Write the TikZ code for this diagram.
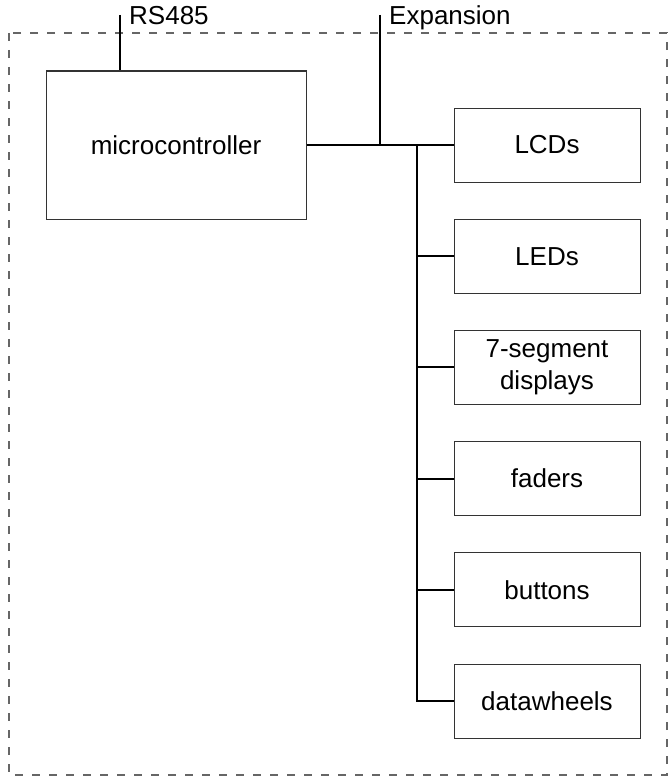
\documentclass[tikz,border=0pt]{standalone}
\usepackage{fontspec}
\setmainfont{Liberation Sans}
\usetikzlibrary{positioning}
\begin{document}
\begin{tikzpicture}[x=1pt,y=-1pt,
	box/.style={draw=black!80,line width=1pt,minimum width=186pt,minimum height=74pt,align=center,inner sep=0pt,font=\fontsize{26}{32}\selectfont},
	wire/.style={line width=2pt},
	lbl/.style={anchor=base west,inner sep=0pt,font=\fontsize{26}{32}\selectfont}]
	\useasboundingbox (0,0) rectangle (670,776);
	\draw[black!60,line width=1.2pt,dash pattern=on 8pt off 9pt] (9,33) rectangle (667,775);
	
	\node[box,minimum width=260pt,minimum height=148pt] (mcu) at (176,145) {microcontroller};
	\node[box] (lcd) at (547,145) {LCDs};
	\node[box,below=36.2pt of lcd] (led) {LEDs};
	\node[box,below=36.2pt of led] (seg) {7-segment\\displays};
	\node[box,below=36.2pt of seg] (fader) {faders};
	\node[box,below=36.2pt of fader] (button) {buttons};
	\node[box,below=36.2pt of button] (wheel) {datawheels};
	
	\coordinate (rs) at (120,15);
	\coordinate (exp) at (380,15);
	\coordinate (tap) at (380,145);
	\coordinate (bus) at (417,145);
	\node[lbl] (rslbl) at (129,25) {RS485};
	\node[lbl] (explbl) at (389,25) {Expansion};
	
	\draw[wire] (rs) -- (rs |- mcu.north);
	\draw[wire] (exp) -- (tap);
	\draw[wire] (mcu) -- (lcd);
	\draw[wire] (bus) |- (wheel);
	\draw[wire] (bus |- led) -- (led);
	\draw[wire] (bus |- seg) -- (seg);
	\draw[wire] (bus |- fader) -- (fader);
	\draw[wire] (bus |- button) -- (button);
\end{tikzpicture}
\end{document}
